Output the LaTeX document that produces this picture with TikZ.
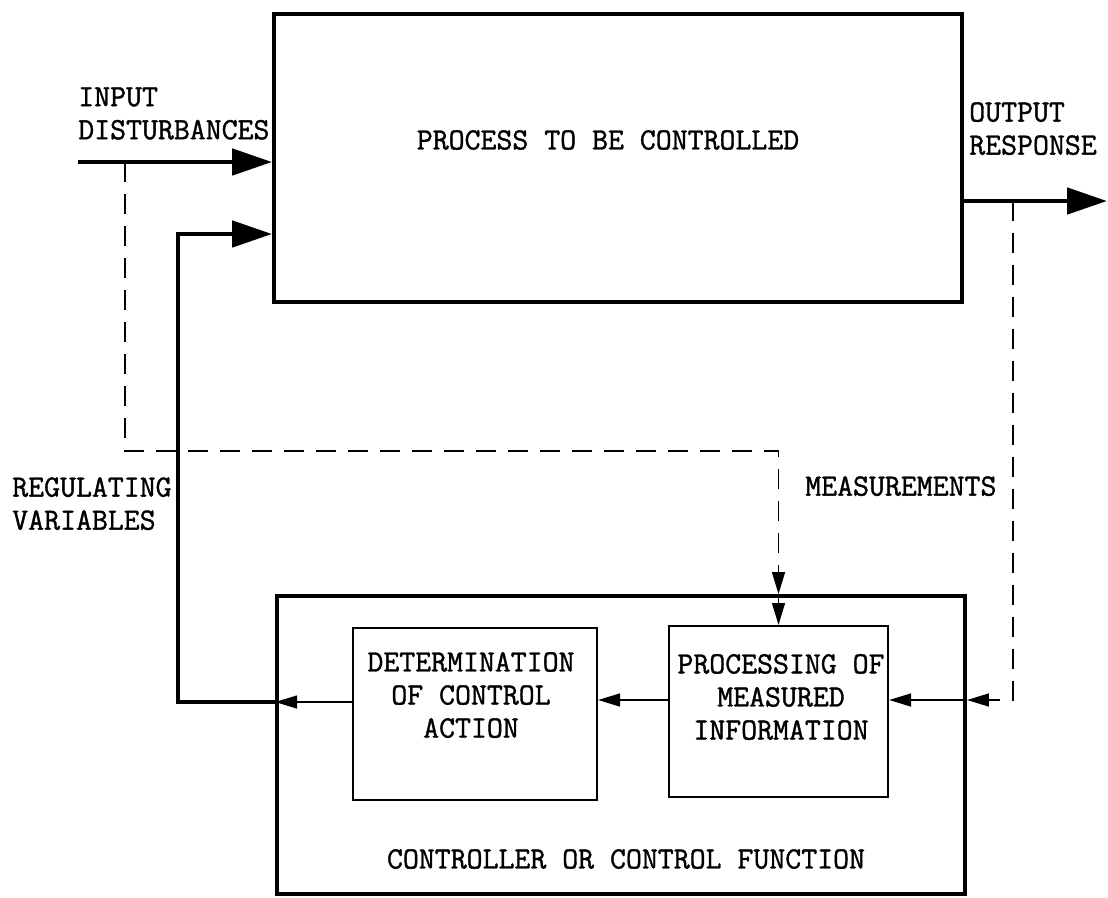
\documentclass[tikz,border=0pt]{standalone}
\usepackage{fontspec}
\newfontfamily\typew{Latin Modern Mono}[UprightFeatures={FakeBold=1.2}]
\usetikzlibrary{arrows.meta,calc}

\begin{document}
\begin{tikzpicture}[x=0.025cm,y=-0.025cm,
    font=\typew\fontsize{22}{23.5}\selectfont,
    bigtip/.style={-{Triangle[length=1cm,width=0.65cm]}},
    smalltip/.style={-{Triangle[length=0.55cm,width=0.32cm]}},
    heavy/.style={line width=3.4pt},
    thin/.style={line width=1.4pt},
    dashline/.style={line width=1.3pt,dash pattern=on 0.5cm off 0.3cm},
    lbl/.style={inner sep=0pt,align=left,anchor=north west}]
  \useasboundingbox (0,0) rectangle (1108,897);
  % boxes
  \node[draw,line width=2.6pt,minimum width=17.2cm,minimum height=7.2cm] (proc) at (618,158) {};
  \node[draw,line width=2.6pt,minimum width=17.2cm,minimum height=7.45cm] (ctrl) at (621,745) {};
  \node[draw,thin,minimum width=6.1cm,minimum height=4.3cm] (det) at (475,714) {};
  \node[draw,thin,minimum width=5.475cm,minimum height=4.275cm] (meas) at (778.5,711.5) {};
  \node (proctxt) at (608,140) {PROCESS TO BE CONTROLLED};
  \node[align=center] (dettxt) at (471,695) {DETERMINATION\\OF CONTROL\\ACTION};
  \node[align=center] (meastxt) at (781,697) {PROCESSING OF\\MEASURED\\INFORMATION};
  \node (ctrltxt) at (626,859) {CONTROLLER OR CONTROL FUNCTION};
  % outside labels
  \node[lbl] (inlbl) at (78,87) {INPUT\\DISTURBANCES};
  \node[lbl] (outlbl) at (969,102) {OUTPUT\\RESPONSE};
  \node[lbl] (reglbl) at (12,477) {REGULATING\\VARIABLES};
  \node[lbl] (mslbl) at (805,476) {MEASUREMENTS};
  % line levels
  \coordinate (in) at (78,162);
  \coordinate (reg) at (178,234);
  \coordinate (low) at (178,702);
  \coordinate (out) at (1107,201);
  \coordinate (dl) at (125,162);
  \coordinate (dh) at (125,451);
  \coordinate (dr) at (1013,201);
  \coordinate (rlev) at (1013,700);
  % main signal paths
  \draw[heavy,bigtip] (in) -- (in -| proc.west);
  \draw[heavy,bigtip] (low -| ctrl.west) -- (low) -- (reg) -- (reg -| proc.west);
  \draw[heavy,bigtip] (out -| proc.east) -- (out);
  \draw[thin,smalltip] (low -| det.west) -- (low -| ctrl.west);
  \draw[thin,smalltip] (rlev -| meas.west) -- (rlev -| det.east);
  \draw[thin,smalltip] (rlev -| ctrl.east) -- (rlev -| meas.east);
  \draw[thin,smalltip] (ctrl.north -| meas.north) -- (meas.north);
  % measurements (dashed)
  \draw[dashline] (dl) -- (dh) -- (dh -| meas.north) -- ($(ctrl.north -| meas.north)+(0,-16)$);
  \draw[thin,smalltip] ($(ctrl.north -| meas.north)+(0,-18)$) -- (ctrl.north -| meas.north);
  \draw[dashline] (dr) -- (rlev) -- ($(rlev -| ctrl.east)+(16,0)$);
  \draw[thin,smalltip] ($(rlev -| ctrl.east)+(18,0)$) -- (rlev -| ctrl.east);
\end{tikzpicture}
\end{document}
